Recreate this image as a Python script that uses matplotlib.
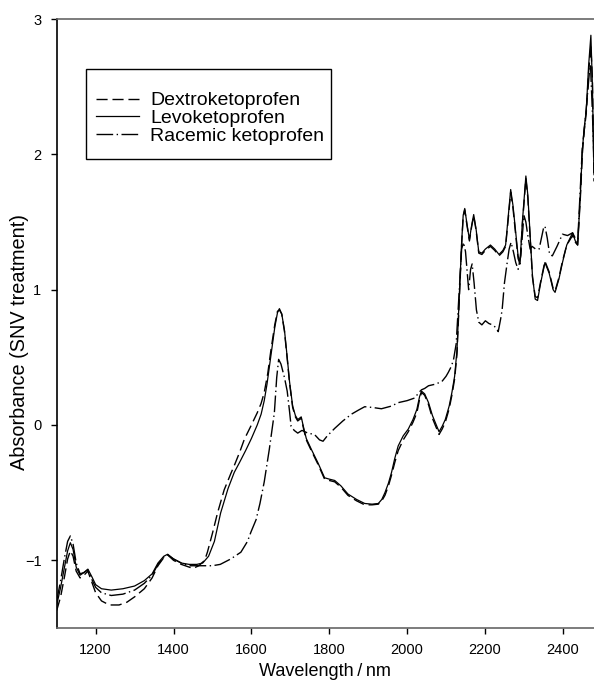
"""
NIR spectra of ketoprofen enantiomers (SNV treated)
"""

import matplotlib.pyplot as plt
from matplotlib.patches import Rectangle

plt.rcParams['font.family'] = ['Liberation Sans', 'DejaVu Sans']

# Dextroketoprofen (dashed)
dextro_nm = [1100, 1110, 1120, 1128, 1135, 1142, 1150, 1160, 1170, 1180, 1190, 1200, 1215, 1235,
             1260, 1280, 1300, 1325, 1345, 1360, 1375, 1385, 1400, 1420, 1440, 1450, 1465, 1480,
             1487, 1500, 1513, 1530, 1547, 1556, 1570, 1582, 1600, 1615, 1625, 1633, 1642, 1650,
             1660, 1667, 1672, 1678, 1685, 1692, 1698, 1706, 1713, 1719, 1728, 1735, 1741, 1754,
             1771, 1788, 1800, 1814, 1830, 1848, 1870, 1891, 1910, 1926, 1935, 1943, 1952, 1960,
             1968, 1977, 1990, 2003, 2015, 2025, 2032, 2037, 2045, 2055, 2065, 2072, 2082, 2090,
             2098, 2108, 2115, 2122, 2128, 2134, 2140, 2144, 2148, 2154, 2160, 2166, 2171, 2177,
             2184, 2192, 2201, 2214, 2225, 2236, 2246, 2253, 2260, 2266, 2272, 2279, 2285, 2290,
             2296, 2305, 2310, 2316, 2322, 2329, 2335, 2343, 2354, 2365, 2375, 2380, 2390, 2399,
             2410, 2425, 2432, 2438, 2445, 2450, 2455, 2460, 2466, 2472, 2476, 2480]
dextro_abs = [-1.37, -1.27, -1.12, -0.99, -0.93, -0.97, -1.08, -1.13, -1.11, -1.08, -1.16, -1.24,
              -1.30, -1.33, -1.33, -1.31, -1.27, -1.21, -1.13, -1.04, -0.98, -0.96, -1.00, -1.03,
              -1.05, -1.06, -1.04, -1.00, -0.94, -0.80, -0.65, -0.48, -0.36, -0.30, -0.20, -0.105,
              0.00, 0.09, 0.16, 0.24, 0.38, 0.55, 0.74, 0.84, 0.85, 0.82, 0.69, 0.49, 0.31, 0.13,
              0.06, 0.03, 0.05, -0.04, -0.11, -0.19, -0.29, -0.40, -0.41, -0.42, -0.46, -0.52,
              -0.56, -0.59, -0.59, -0.585, -0.56, -0.52, -0.45, -0.37, -0.28, -0.19, -0.11, -0.05,
              0.02, 0.09, 0.19, 0.24, 0.22, 0.15, 0.05, 0.00, -0.07, -0.03, 0.02, 0.12, 0.22, 0.34,
              0.52, 0.92, 1.33, 1.54, 1.59, 1.47, 1.36, 1.47, 1.545, 1.44, 1.27, 1.26, 1.29, 1.32,
              1.29, 1.25, 1.28, 1.32, 1.53, 1.72, 1.60, 1.40, 1.23, 1.19, 1.48, 1.82, 1.68, 1.38,
              1.09, 0.95, 0.94, 1.06, 1.21, 1.13, 1.01, 0.99, 1.09, 1.21, 1.33, 1.40, 1.35, 1.33,
              1.68, 2.00, 2.18, 2.30, 2.60, 2.80, 2.55, 1.80]

# Levoketoprofen (solid)
levo_nm = [1100, 1110, 1120, 1128, 1135, 1142, 1150, 1160, 1170, 1180, 1190, 1200, 1215, 1240,
           1270, 1300, 1325, 1345, 1360, 1375, 1385, 1400, 1420, 1440, 1460, 1475, 1490, 1505,
           1521, 1540, 1556, 1569, 1585, 1600, 1615, 1625, 1633, 1640, 1650, 1660, 1667, 1672,
           1678, 1685, 1692, 1698, 1706, 1713, 1719, 1728, 1735, 1741, 1754, 1771, 1788, 1800,
           1814, 1830, 1848, 1870, 1891, 1910, 1926, 1935, 1943, 1952, 1960, 1968, 1977, 1990,
           2003, 2015, 2025, 2032, 2037, 2045, 2055, 2065, 2072, 2082, 2090, 2098, 2108, 2115,
           2122, 2128, 2134, 2140, 2144, 2148, 2154, 2160, 2166, 2171, 2177, 2184, 2192, 2201,
           2214, 2225, 2236, 2246, 2253, 2260, 2266, 2272, 2279, 2285, 2290, 2296, 2305, 2310,
           2316, 2322, 2329, 2335, 2343, 2354, 2365, 2375, 2380, 2390, 2399, 2410, 2425, 2432,
           2438, 2445, 2450, 2455, 2460, 2466, 2472, 2476, 2480]
levo_abs = [-1.33, -1.20, -1.05, -0.93, -0.87, -0.92, -1.05, -1.11, -1.09, -1.065, -1.12, -1.18,
            -1.21, -1.22, -1.21, -1.19, -1.15, -1.10, -1.02, -0.97, -0.955, -0.99, -1.02, -1.03,
            -1.03, -1.02, -0.97, -0.86, -0.65, -0.47, -0.35, -0.28, -0.19, -0.10, 0.00, 0.08,
            0.18, 0.30, 0.51, 0.72, 0.83, 0.86, 0.82, 0.70, 0.50, 0.32, 0.14, 0.07, 0.04, 0.06,
            -0.03, -0.10, -0.18, -0.28, -0.39, -0.40, -0.41, -0.45, -0.51, -0.55, -0.58, -0.585,
            -0.58, -0.55, -0.50, -0.43, -0.35, -0.25, -0.155, -0.08, -0.03, 0.04, 0.115, 0.21,
            0.25, 0.23, 0.165, 0.07, 0.02, -0.05, -0.01, 0.04, 0.14, 0.24, 0.36, 0.55, 0.95, 1.35,
            1.55, 1.60, 1.48, 1.37, 1.48, 1.555, 1.45, 1.28, 1.27, 1.30, 1.33, 1.30, 1.26, 1.29,
            1.33, 1.55, 1.74, 1.62, 1.42, 1.25, 1.20, 1.50, 1.84, 1.70, 1.40, 1.10, 0.93, 0.92,
            1.05, 1.20, 1.12, 1.00, 0.98, 1.08, 1.20, 1.33, 1.42, 1.36, 1.33, 1.70, 2.03, 2.20,
            2.32, 2.65, 2.88, 2.50, 1.85]

# Racemic ketoprofen (dash-dot)
racemic_nm = [1100, 1110, 1120, 1128, 1135, 1142, 1150, 1160, 1170, 1180, 1190, 1200, 1215, 1240,
              1270, 1300, 1325, 1345, 1360, 1375, 1385, 1400, 1420, 1440, 1460, 1480, 1500, 1520,
              1547, 1573, 1590, 1599, 1612, 1622, 1633, 1646, 1659, 1665, 1670, 1676, 1685, 1692,
              1698, 1702, 1710, 1719, 1730, 1745, 1762, 1775, 1784, 1795, 1814, 1835, 1857, 1875,
              1891, 1910, 1934, 1960, 1977, 2000, 2020, 2030, 2037, 2045, 2055, 2070, 2089, 2100,
              2106, 2113, 2119, 2126, 2133, 2140, 2145, 2150, 2155, 2158, 2163, 2167, 2172, 2178,
              2184, 2192, 2201, 2210, 2219, 2228, 2234, 2240, 2244, 2250, 2257, 2262, 2267, 2273,
              2279, 2285, 2292, 2300, 2305, 2310, 2316, 2321, 2330, 2339, 2345, 2350, 2354, 2360,
              2366, 2373, 2385, 2399, 2412, 2425, 2432, 2438, 2445, 2450, 2455, 2462, 2468, 2471,
              2476, 2480]
racemic_abs = [-1.30, -1.15, -0.98, -0.86, -0.82, -0.88, -1.02, -1.10, -1.09, -1.07, -1.14, -1.20,
               -1.24, -1.26, -1.25, -1.22, -1.17, -1.11, -1.03, -0.975, -0.96, -0.99, -1.02, -1.04,
               -1.04, -1.04, -1.04, -1.03, -0.99, -0.94, -0.86, -0.79, -0.70, -0.58, -0.42, -0.18,
               0.09, 0.35, 0.485, 0.45, 0.35, 0.25, 0.10, -0.01, -0.04, -0.06, -0.04, -0.06, -0.07,
               -0.11, -0.12, -0.08, -0.025, 0.03, 0.08, 0.11, 0.135, 0.13, 0.12, 0.14, 0.165, 0.18,
               0.20, 0.24, 0.26, 0.27, 0.29, 0.30, 0.32, 0.36, 0.39, 0.43, 0.48, 0.60, 0.95, 1.30,
               1.35, 1.28, 1.10, 1.00, 1.15, 1.19, 1.05, 0.85, 0.76, 0.74, 0.77, 0.75, 0.74, 0.72,
               0.69, 0.78, 0.85, 1.05, 1.20, 1.30, 1.35, 1.28, 1.20, 1.15, 1.25, 1.55, 1.50, 1.40,
               1.30, 1.32, 1.30, 1.30, 1.38, 1.45, 1.47, 1.38, 1.26, 1.25, 1.32, 1.41, 1.40, 1.42,
               1.38, 1.35, 1.75, 2.05, 2.18, 2.40, 2.60, 2.66, 2.30, 1.95]

fig = plt.figure(figsize=(5.94, 6.84), dpi=100)
ax = fig.add_axes([0.0955, 0.0819, 0.9045, 0.8903])

ax.plot(dextro_nm, dextro_abs, color='black', linewidth=1.0, dashes=(8, 3.5),
        label='Dextroketoprofen')
ax.plot(levo_nm, levo_abs, color='black', linewidth=0.9, label='Levoketoprofen')
ax.plot(racemic_nm, racemic_abs, color='black', linewidth=1.0, dashes=(12, 2.5, 1, 2.5),
        label='Racemic ketoprofen')

ax.set_xlim(1100, 2480)
ax.set_ylim(-1.5, 3)
ax.set_xticks([1200, 1400, 1600, 1800, 2000, 2200, 2400])
ax.set_yticks([-1, 0, 1, 2, 3])

ax.spines['right'].set_visible(False)
ax.spines['left'].set_color('black')
ax.spines['top'].set_color('#666666')
ax.spines['bottom'].set_color('#666666')
for s in ax.spines.values():
    s.set_linewidth(1.2)
ax.tick_params(direction='out', length=4, width=1, labelsize=10.5, pad=7)

ax.set_xlabel('Wavelength\u2009/\u2009nm', fontsize=13)
ax.set_ylabel('Absorbance (SNV treatment)', fontsize=14.3)
ax.yaxis.set_label_coords(-0.052, 0.47)

# legend text without frame, box drawn separately to get the tall padding
leg = ax.legend(loc='center left', bbox_to_anchor=(0.073, 0.837), borderaxespad=0,
                fontsize=14, frameon=False, handlelength=2.2, handletextpad=0.6,
                labelspacing=0.0, borderpad=0)
ax.add_patch(Rectangle((0.0545, 0.770), 0.456, 0.148, transform=ax.transAxes,
                       fill=False, edgecolor='black', linewidth=1.0, zorder=5))

fig.savefig('out.png', dpi=100)
